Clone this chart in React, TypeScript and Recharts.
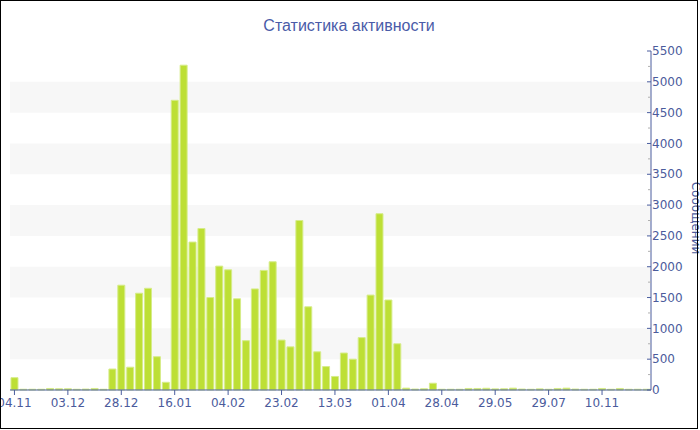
import { BarChart, Bar, XAxis, YAxis, ReferenceArea } from 'recharts'

// activity per period, one bar per bucket
const VALUES = [
  200, 12, 12, 12, 25, 20, 20, 12, 15, 25, 12, 340,
  1700, 370, 1570, 1650, 540, 125,
  4700, 5270, 2400, 2620, 1500, 2010,
  1950, 1480, 800, 1640, 1940, 2080,
  810, 700, 2750, 1350, 620, 380,
  220, 600, 500, 850, 1540, 2860,
  1460, 750, 30, 15, 20, 110,
  12, 12, 12, 25, 25, 28,
  18, 20, 30, 15, 12, 18,
  12, 25, 30, 15, 12, 12,
  25, 12, 25, 12, 12, 12,
]

// shown every 6th bucket
const TICK_LABELS = ['04.11', '03.12', '28.12', '16.01', '04.02', '23.02', '13.03', '01.04', '28.04', '29.05', '29.07', '10.11']

const Y_MAX = 5500
const Y_TICKS = [0, 250, 500, 750, 1000, 1250, 1500, 1750, 2000, 2250, 2500, 2750, 3000, 3250, 3500, 3750, 4000, 4250, 4500, 4750, 5000, 5250, 5500]
const BANDS = [[500, 1000], [1500, 2000], [2500, 3000], [3500, 4000], [4500, 5000]]

const AXIS = '#4a5d9e'
const TEXT = '#4b5b9c'
const FONT = 'DejaVu Sans, Verdana, sans-serif'

const data = VALUES.map((v, i) => ({ i, v }))

const YTick = ({ x, y, payload }: any) => {
  const major = payload.value % 500 === 0
  return (
    <g>
      <line x1={x - (major ? 4 : 3)} x2={x} y1={y} y2={y} stroke={major ? AXIS : '#b0b0b0'} />
      {major && (
        <text x={x + 1} y={y} dy="0.35em" fontSize={12} fontFamily={FONT} fill={TEXT}>
          {payload.value}
        </text>
      )}
    </g>
  )
}

const XTick = ({ x, y, payload }: any) => (
  <g>
    <line x1={x} x2={x} y1={y - 2} y2={y + 3} stroke={AXIS} />
    <text x={x} y={y + 15} textAnchor="middle" fontSize={12} fontFamily={FONT} fill={TEXT}>
      {TICK_LABELS[payload.value / 6]}
    </text>
  </g>
)

export default function App() {
  return (
    <div style={{ position: 'fixed', left: 0, top: 0, width: 700, height: 430, background: '#fff', overflow: 'hidden' }}>
      <BarChart
        width={700}
        height={430}
        data={data}
        margin={{ top: 51, right: 0, left: 10, bottom: 0 }}
        barCategoryGap="11%"
      >
        {BANDS.map(([a, b]) => (
          <ReferenceArea key={a} y1={a} y2={b} fill="#f7f7f7" fillOpacity={1} stroke="none" ifOverflow="visible" />
        ))}
        <XAxis
          dataKey="i"
          interval={5}
          height={40}
          axisLine={{ stroke: AXIS }}
          tickLine={false}
          tickSize={0}
          tick={<XTick />}
        />
        <YAxis
          orientation="right"
          width={49}
          domain={[0, Y_MAX]}
          ticks={Y_TICKS}
          interval={0}
          axisLine={{ stroke: AXIS }}
          tickLine={false}
          tickSize={0}
          tickMargin={0}
          tick={<YTick />}
          label={{
            content: () => (
              <text
                x={692}
                y={218}
                transform="rotate(90 692 218)"
                textAnchor="middle"
                fontSize={12}
                fontFamily={FONT}
                fill={TEXT}
              >
                Сообщений
              </text>
            ),
          }}
        />
        <Bar dataKey="v" fill="#bddf35" stroke="#d6ec8a" strokeWidth={1} isAnimationActive={false} />
        <text x={349} y={31} textAnchor="middle" fontSize={16} fontFamily="Liberation Sans, Arial, sans-serif" fill="#4a5ba8">
          Статистика активности
        </text>
      </BarChart>
      <div
        style={{
          position: 'absolute',
          left: 0,
          top: 0,
          width: 698,
          height: 429,
          border: '1px solid #000',
          boxSizing: 'border-box',
          pointerEvents: 'none',
        }}
      />
    </div>
  )
}
